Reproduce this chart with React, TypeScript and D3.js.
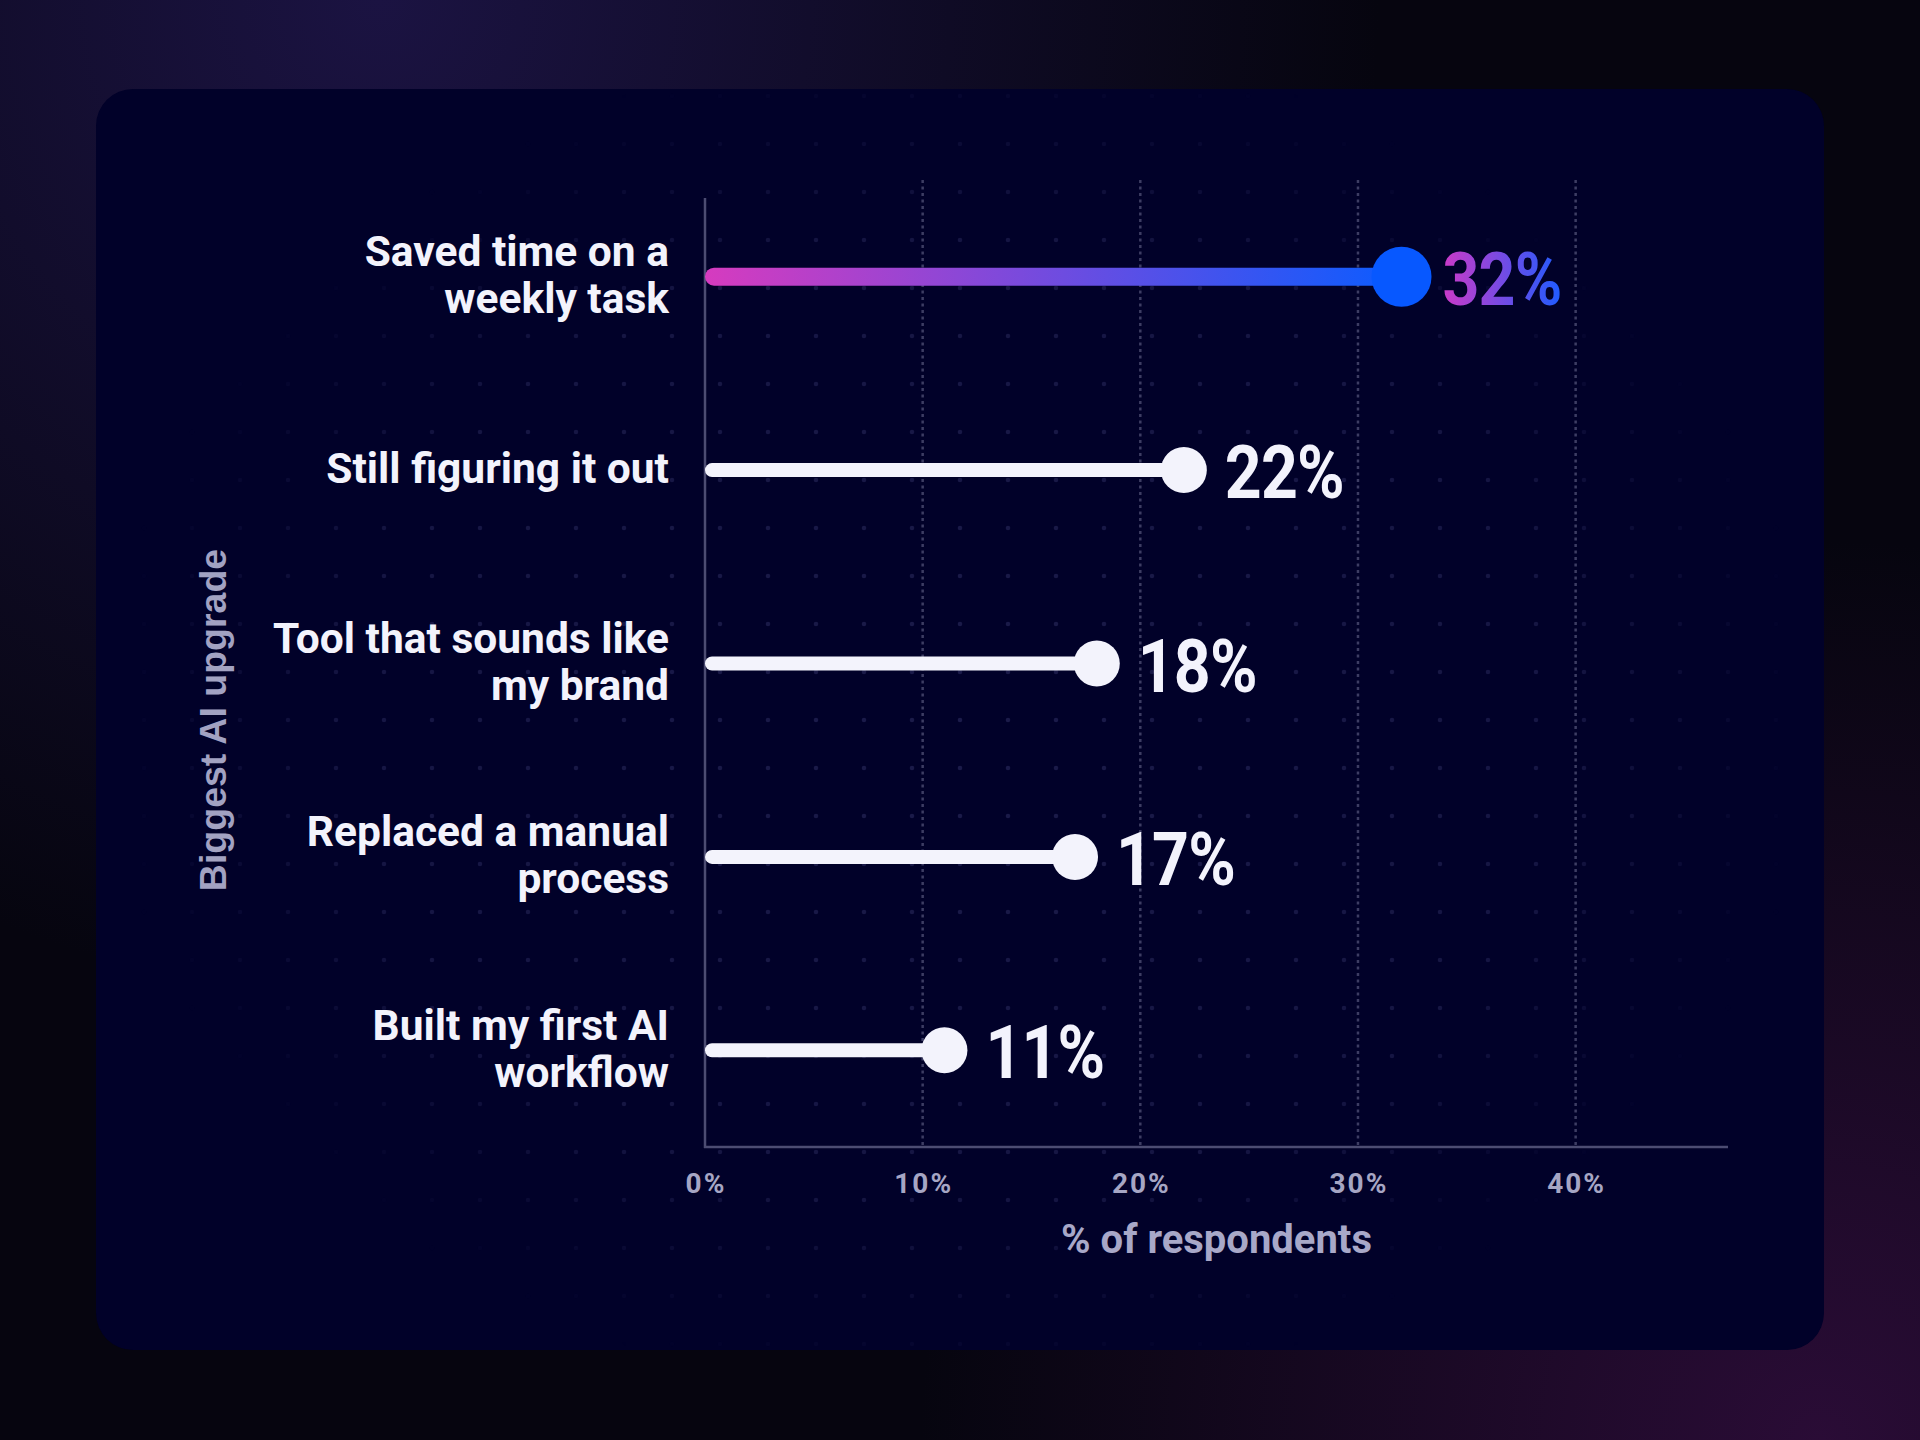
import * as d3 from "d3";

// chart data
const categories = [
  "Saved time on a weekly task",
  "Still figuring it out",
  "Tool that sounds like my brand",
  "Replaced a manual process",
  "Built my first AI workflow",
];
const labelLines = [
  ["Saved time on a", "weekly task"],
  ["Still figuring it out"],
  ["Tool that sounds like", "my brand"],
  ["Replaced a manual", "process"],
  ["Built my first AI", "workflow"],
];
const values = [32, 22, 18, 17, 11];
const ticks = [0, 10, 20, 30, 40];
const highlight = "Saved time on a weekly task";

const W = 1920;
const H = 1440;

const App = () => {
  const x = d3.scaleLinear().domain([0, 47]).range([705, 1728]);
  const y = d3.scaleBand<string>().domain(categories).range([180, 1147]);
  const cy = (c: string) => (y(c) as number) + y.bandwidth() / 2;

  // faint background dot grid
  const dotXs = d3.range(96, 1825, 48);
  const dotYs = d3.range(96, 1350, 48);

  return (
    <svg
      width={W}
      height={H}
      style={{ position: "fixed", left: 0, top: 0, display: "block" }}
    >
      <defs>
        <radialGradient id="bgGlowA" cx={380} cy={0} r={1000} gradientUnits="userSpaceOnUse">
          <stop offset="0" stopColor="#1b1342" />
          <stop offset="1" stopColor="#1b1342" stopOpacity="0" />
        </radialGradient>
        <radialGradient id="bgGlowB" cx={1820} cy={1440} r={900} gradientUnits="userSpaceOnUse">
          <stop offset="0" stopColor="#2a0c36" />
          <stop offset="1" stopColor="#2a0c36" stopOpacity="0" />
        </radialGradient>
        <radialGradient id="dotFade" cx="0.5" cy="0.5" r="0.5">
          <stop offset="0" stopColor="#fff" stopOpacity="1" />
          <stop offset="0.7" stopColor="#fff" stopOpacity="0.8" />
          <stop offset="1" stopColor="#fff" stopOpacity="0" />
        </radialGradient>
        <mask id="dotMask" maskUnits="userSpaceOnUse" x={0} y={0} width={W} height={H}>
          <rect x={960 - 860} y={720 - 680} width={1720} height={1360} fill="url(#dotFade)" />
        </mask>
        <linearGradient id="stemGrad" gradientUnits="userSpaceOnUse" x1={x(0)} x2={x(32)} y1={0} y2={0}>
          <stop offset="0" stopColor="#d63bbf" />
          <stop offset="1" stopColor="#0b5cff" />
        </linearGradient>
        <linearGradient id="textGrad" x1="0" x2="1" y1="0" y2="0">
          <stop offset="0" stopColor="#cc3ac8" />
          <stop offset="1" stopColor="#1f5cff" />
        </linearGradient>
      </defs>

      {/* page background */}
      <rect width={W} height={H} fill="#06050f" />
      <rect width={W} height={H} fill="url(#bgGlowA)" />
      <rect width={W} height={H} fill="url(#bgGlowB)" />

      {/* card */}
      <rect x={96} y={89} width={1728} height={1261} rx={37} fill="#010129" />

      <g mask="url(#dotMask)">
        {dotYs.map((dy) =>
          dotXs.map((dx) => <circle key={`${dx}-${dy}`} cx={dx} cy={dy} r={2.3} fill="#1b1b4a" />)
        )}
      </g>

      {/* gridlines */}
      {ticks
        .filter((t) => t > 0)
        .map((t) => (
          <line
            key={t}
            x1={x(t)}
            x2={x(t)}
            y1={180}
            y2={1147}
            stroke="#3d3d63"
            strokeWidth={2.5}
            strokeDasharray="3 3.5"
          />
        ))}

      {/* axes */}
      <line x1={x(0)} x2={x(0)} y1={198} y2={1148} stroke="#4c4c72" strokeWidth={2.5} />
      <line x1={x(0) - 1} x2={x.range()[1]} y1={1147} y2={1147} stroke="#4c4c72" strokeWidth={2.5} />

      {ticks.map((t) => (
        <text
          key={t}
          x={x(t) + 1}
          y={1193}
          textAnchor="middle"
          fontFamily="Roboto"
          fontWeight={700}
          fontSize={28}
          letterSpacing={2}
          fill="#a6a6c4"
        >
          {t}%
        </text>
      ))}

      <text
        x={(x.range()[0] + x.range()[1]) / 2}
        y={1253}
        textAnchor="middle"
        fontFamily="Roboto"
        fontWeight={700}
        fontSize={40}
        fill="#a8a8c8"
      >
        % of respondents
      </text>

      <text
        transform="translate(226,720) rotate(-90)"
        textAnchor="middle"
        fontFamily="Liberation Sans"
        fontWeight={700}
        fontSize={37.5}
        fill="#a2a2c2"
      >
        Biggest AI upgrade
      </text>

      {/* lollipops */}
      {categories.map((c, i) => {
        const hi = c === highlight;
        const yc = cy(c);
        const sw = hi ? 18 : 14;
        const r = hi ? 30 : 23;
        const xv = x(values[i]);
        const lines = labelLines[i];
        return (
          <g key={c}>
            <text
              textAnchor="end"
              fontFamily="Roboto"
              fontWeight={700}
              fontSize={42.5}
              fill="#f3f3fc"
            >
              {lines.map((ln, j) => (
                <tspan key={j} x={669} y={yc + 13 + (j - (lines.length - 1) / 2) * 47}>
                  {ln}
                </tspan>
              ))}
            </text>
            <line
              x1={x(0) + sw / 2}
              x2={xv}
              y1={yc}
              y2={yc}
              stroke={hi ? "url(#stemGrad)" : "#f3f3fc"}
              strokeWidth={sw}
              strokeLinecap="round"
            />
            <circle cx={xv} cy={yc} r={r} fill={hi ? "#0758ff" : "#f3f3fc"} />
            <text
              transform={`translate(${xv + 41},${yc + 28}) scale(0.87,1)`}
              fontFamily="Roboto"
              fontWeight={700}
              fontSize={74}
              letterSpacing={-1}
              fill={hi ? "url(#textGrad)" : "#f3f3fc"}
            >
              {values[i]}%
            </text>
          </g>
        );
      })}
    </svg>
  );
};

export default App;
